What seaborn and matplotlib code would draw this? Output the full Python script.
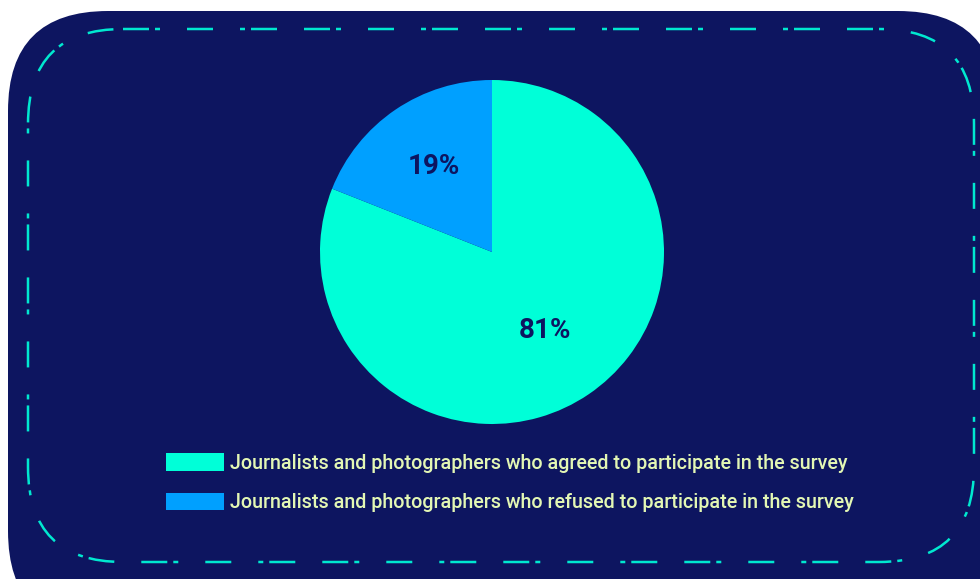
import matplotlib
matplotlib.use("Agg")
import matplotlib.pyplot as plt
from matplotlib.patches import FancyBboxPatch, Patch
import numpy as np
import seaborn as sns

# Survey response shares
categories = [
    "Journalists and photographers who agreed to participate in the survey",
    "Journalists and photographers who refused to participate in the survey",
]
shares = [81, 19]
pct_labels = ["81%", "19%"]

NAVY = "#0d1560"
palette = sns.color_palette(["#00ffd8", "#00a0ff"])
TEXT = "#e3f7b4"
DASH = "#00e8d0"

sns.set_theme(style="white")
plt.rcParams["font.family"] = ["Roboto", "DejaVu Sans"]

W, H = 980, 579
fig = plt.figure(figsize=(W / 100, H / 100), dpi=100)
fig.patch.set_facecolor("white")

# Background panel in pixel coordinates (y grows downward)
bg = fig.add_axes([0, 0, 1, 1])
bg.set_xlim(0, W)
bg.set_ylim(H, 0)
bg.axis("off")

panel = FancyBboxPatch((8, 11), 990, 620, boxstyle="round,pad=0,rounding_size=100",
                       facecolor=NAVY, edgecolor="none")
bg.add_patch(panel)

# Dash-dot frame: long dash / short dot rhythm (in units of line width)
frame_dashes = (10.4, 2.4, 2.0, 10.8, 10.4, 10.8, 2.0, 2.4, 10.4, 10.8)
frame = FancyBboxPatch((28, 29), 946, 533, boxstyle="round,pad=0,rounding_size=95",
                       facecolor="none", edgecolor=DASH, linewidth=1.8,
                       linestyle=(0, frame_dashes))
bg.add_patch(frame)

# Pie chart
cx, cy, r = 492, 252, 172
pie_ax = fig.add_axes([(cx - r) / W, (H - cy - r) / H, 2 * r / W, 2 * r / H])
pie_ax.axis("off")
wedges, _ = pie_ax.pie(shares, colors=palette, startangle=90, counterclock=False,
                       radius=1, wedgeprops=dict(linewidth=0))
pie_ax.set_xlim(-1, 1)
pie_ax.set_ylim(-1, 1)
pie_ax.set_aspect("equal")

# Percentage labels inside each wedge
label_dist = [0.55, 0.60]
for w, lab, d in zip(wedges, pct_labels, label_dist):
    ang = np.deg2rad((w.theta1 + w.theta2) / 2)
    pie_ax.text(d * np.cos(ang), d * np.sin(ang), lab, ha="center", va="center",
                color=NAVY, fontsize=20, fontweight="bold")

# Legend
handles = [Patch(facecolor=c, edgecolor="none") for c in palette]
leg = fig.legend(handles, categories, loc="upper left",
                 bbox_to_anchor=(166 / W, 1 - 453 / H), frameon=False,
                 fontsize=14.2, handlelength=2.95, handleheight=1.0,
                 handletextpad=0.3, labelspacing=1.02, borderpad=0, borderaxespad=0)
for t in leg.get_texts():
    t.set_color(TEXT)
    t.set_fontweight("medium")

fig.savefig("out.png", dpi=100, facecolor="white")
